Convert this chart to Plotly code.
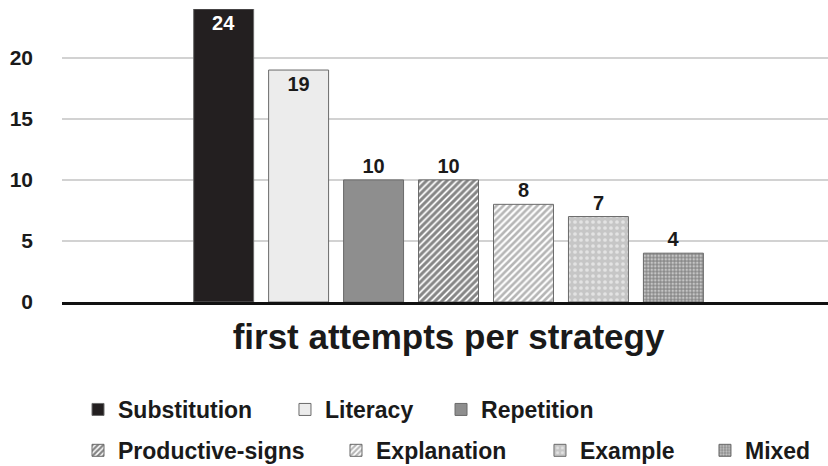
import plotly.graph_objects as go

# Data: counts of first attempts by strategy
category = "first attempts per strategy"
strategies = ["Substitution", "Literacy", "Repetition", "Productive-signs",
              "Explanation", "Example", "Mixed"]
counts = [24, 19, 10, 10, 8, 7, 4]
y_ticks = [0, 5, 10, 15, 20]

# Visual style per strategy
fills = ["#231f20", "#ececec", "#8e8e8e", "white", "white", "#c6c6c6", "#8a8a8a"]
patterns = [
    dict(shape=""),
    dict(shape=""),
    dict(shape=""),
    dict(shape="/", fgcolor="#0c0c0c", bgcolor="white", size=4.8, solidity=0.62),
    dict(shape="/", fgcolor="#6e6e6e", bgcolor="white", size=4.8, solidity=0.55),
    dict(shape=".", fgcolor="white", bgcolor="#c6c6c6", size=6, solidity=0.3),
    dict(shape=".", fgcolor="white", bgcolor="#8a8a8a", size=3.5, solidity=0.45),
]
text_pos = ["inside", "inside", "outside", "outside", "outside", "outside", "outside"]
text_col = ["white", "#1a1a1a", "#1a1a1a", "#1a1a1a", "#1a1a1a", "#1a1a1a", "#1a1a1a"]

# Each legend entry gets its own legend box so the two rows can be laid out freely
legend_names = ["legend", "legend2", "legend3", "legend4", "legend5", "legend6", "legend7"]
legend_x = [0.0209, 0.2911, 0.4948, 0.0209, 0.3577, 0.6240, 0.8394]
legend_y = [-0.2935, -0.2935, -0.2935, -0.433, -0.433, -0.433, -0.433]

FONT = "Liberation Sans, Arial, sans-serif"

fig = go.Figure()
for name, val, fc, pat, tp, tc, lg in zip(strategies, counts, fills, patterns,
                                          text_pos, text_col, legend_names):
    fig.add_trace(go.Bar(
        name=name,
        x=[category],
        y=[val],
        text=[str(val)],
        textposition=tp,
        insidetextanchor="end",
        textfont=dict(family=FONT, size=20, color=tc, weight="bold"),
        marker=dict(color=fc, line=dict(color="#6a6a6a", width=1), pattern=pat),
        legend=lg,
        showlegend=True,
        cliponaxis=False,
    ))

legend_layout = {}
for lg, lx, ly in zip(legend_names, legend_x, legend_y):
    legend_layout[lg] = dict(
        orientation="h", x=lx, xanchor="left", y=ly, yanchor="top",
        font=dict(family=FONT, size=23, color="#1a1a1a", weight="bold"),
        bgcolor="rgba(0,0,0,0)", borderwidth=0,
    )

fig.update_layout(
    width=828, height=466,
    margin=dict(l=62, r=0, t=9, b=164, autoexpand=False),
    paper_bgcolor="white", plot_bgcolor="white",
    showlegend=True,
    barmode="group", bargap=0.315, bargroupgap=0.2,
    font=dict(family=FONT, color="#1a1a1a"),
    **legend_layout,
)

fig.update_xaxes(
    range=[-0.5046, 0.4954],
    showline=True, linecolor="#111111", linewidth=3,
    showgrid=False, ticks="",
    tickfont=dict(family=FONT, size=35, color="#1a1a1a", weight="bold"),
    ticklabelstandoff=2,
)
fig.update_yaxes(
    range=[0, 24], tickvals=y_ticks,
    showgrid=True, gridcolor="#d2d2d2", gridwidth=2,
    zeroline=False, showline=False, ticks="",
    tickfont=dict(family=FONT, size=21, color="#1a1a1a", weight="bold"),
    ticklabelstandoff=28,
)

fig.write_html("out.html")
